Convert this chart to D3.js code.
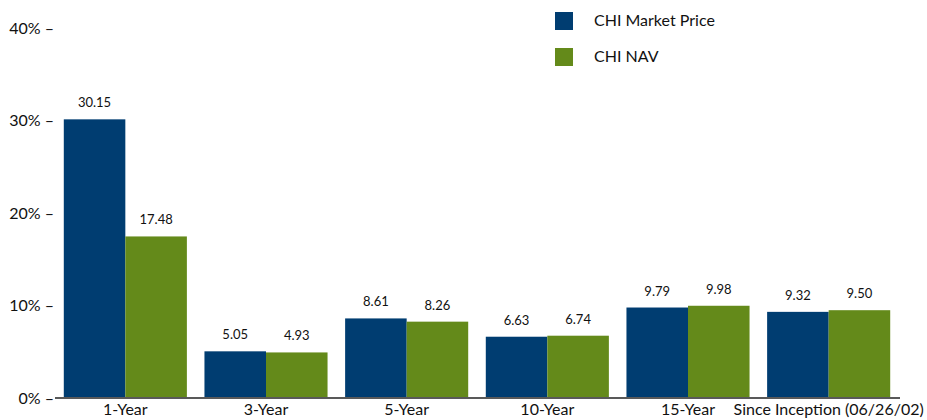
<!DOCTYPE html>
<html><head><meta charset="utf-8">
<script src="https://cdn.jsdelivr.net/npm/d3@7"></script>
<style>
html,body{margin:0;padding:0;background:#fff;}
text{font-family:Lato,"Open Sans",sans-serif;fill:#111;}
</style></head>
<body><svg id="c" width="927" height="420"></svg>
<script>
const categories = ["1-Year","3-Year","5-Year","10-Year","15-Year","Since Inception (06/26/02)"];
const seriesNames = ["CHI Market Price","CHI NAV"];
const marketPrice = [30.15,5.05,8.61,6.63,9.79,9.32];
const nav = [17.48,4.93,8.26,6.74,9.98,9.50];
const yTicks = [0,10,20,30,40];
const colors = ["#003d71","#648a1a"];

const svg = d3.select("#c");
const y = d3.scaleLinear().domain([0,40]).range([398,28.3]);
const x0 = d3.scaleBand().domain(categories).range([55,899]).paddingInner(0.125).paddingOuter(0.0625);
const x1 = d3.scaleBand().domain(seriesNames).range([0,x0.bandwidth()]);

const data = categories.map((c,i)=>({cat:c, vals:[marketPrice[i],nav[i]]}));

const g = svg.selectAll("g.grp").data(data).enter().append("g")
  .attr("transform",d=>`translate(${x0(d.cat)},0)`);
g.selectAll("rect").data(d=>d.vals.map((v,j)=>({v,j}))).enter().append("rect")
  .attr("x",d=>x1(seriesNames[d.j]))
  .attr("width",x1.bandwidth())
  .attr("y",d=>y(d.v))
  .attr("height",d=>y(0)-y(d.v))
  .attr("fill",d=>colors[d.j]);
g.selectAll("text.val").data(d=>d.vals.map((v,j)=>({v,j}))).enter().append("text")
  .attr("class","val")
  .attr("x",d=>x1(seriesNames[d.j])+x1.bandwidth()/2)
  .attr("y",d=>y(d.v)-12)
  .attr("text-anchor","middle")
  .style("font-size","13px")
  .text(d=>d.v.toFixed(2));

// y axis labels
svg.selectAll("text.yt").data(yTicks).enter().append("text")
  .attr("class","yt")
  .attr("x",54).attr("y",d=>y(d))
  .attr("dy","0.35em")
  .attr("text-anchor","end")
  .style("font-size","16px")
  .text(d=>d+"% \u2013");

// x axis line
svg.append("line").attr("x1",55).attr("x2",900).attr("y1",y(0)).attr("y2",y(0))
  .attr("stroke","#595959").attr("stroke-width",2);

// x labels
svg.selectAll("text.xl").data(categories).enter().append("text")
  .attr("class","xl")
  .attr("x",d=>x0(d)+x0.bandwidth()/2)
  .attr("y",415)
  .attr("text-anchor","middle")
  .style("font-size","16px")
  .text(d=>d);

// legend
const lg = svg.selectAll("g.lg").data(seriesNames).enter().append("g")
  .attr("transform",(d,i)=>`translate(555,${12+i*36})`);
lg.append("rect").attr("width",18).attr("height",18).attr("fill",(d,i)=>colors[i]);
lg.append("text").attr("x",39).attr("y",14).style("font-size","16px").text(d=>d);
</script></body></html>
